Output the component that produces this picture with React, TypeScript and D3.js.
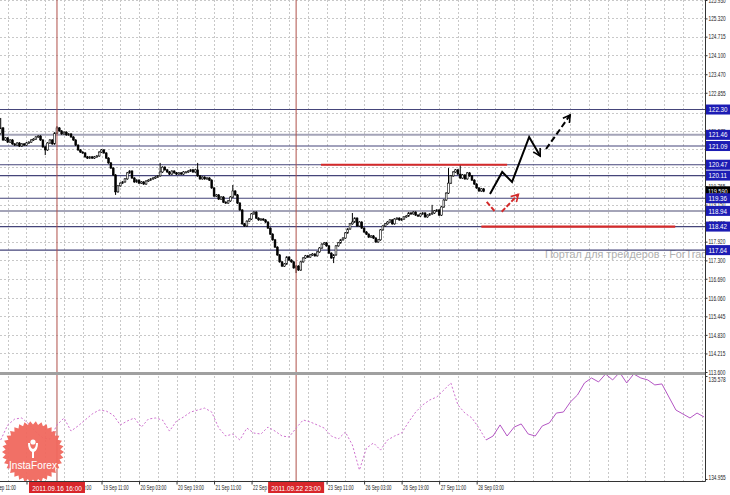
import React, { useRef, useEffect } from 'react';
import * as d3 from 'd3';

// H1 closes, first value is bar -24 (bar 0 = 2011.09.16 16:00)
const firstBar = -24;
const closes = [
  121.69, 121.29, 121.36, 121.22, 121.29, 121.16, 121.12, 121.19, 121.09, 121.16,
  121.12, 121.19, 121.22, 121.29, 121.32, 121.39, 121.42, 121.29, 121.06, 120.96,
  121.19, 121.29, 121.16, 121.52, 121.69, 121.59, 121.49, 121.55, 121.46, 121.49,
  121.39, 121.29, 121.12, 120.96, 120.89, 120.86, 120.73, 120.69, 120.73, 120.69,
  120.73, 120.76, 120.89, 120.96, 120.86, 120.69, 120.53, 120.36, 120.13, 119.57,
  119.77, 119.86, 119.90, 120.00, 120.20, 120.26, 120.03, 119.90, 119.96, 119.86,
  119.90, 119.83, 119.93, 119.96, 120.00, 120.03, 120.06, 120.10, 120.23, 120.39,
  120.30, 120.23, 120.16, 120.26, 120.20, 120.16, 120.20, 120.16, 120.23, 120.23,
  120.26, 120.30, 120.23, 120.30, 120.10, 120.00, 120.06, 120.00, 120.03, 119.96,
  119.70, 119.43, 119.47, 119.33, 119.40, 119.23, 119.20, 119.27, 119.40, 119.60,
  119.47, 119.20, 118.97, 118.51, 118.44, 118.60, 118.67, 118.84, 118.90, 118.70,
  118.64, 118.67, 118.64, 118.57, 118.37, 118.17, 117.98, 117.74, 117.48, 117.25,
  117.11, 117.18, 117.41, 117.31, 117.25, 117.05, 117.11, 116.98, 117.25, 117.38,
  117.45, 117.41, 117.48, 117.51, 117.45, 117.58, 117.71, 117.84, 117.88, 117.78,
  117.54, 117.38, 117.48, 117.78, 117.88, 117.98, 118.04, 118.21, 118.34, 118.51,
  118.57, 118.70, 118.44, 118.57, 118.37, 118.24, 118.17, 118.07, 118.11, 118.04,
  117.91, 117.98, 118.31, 118.44, 118.51, 118.57, 118.64, 118.51, 118.67, 118.70,
  118.64, 118.67, 118.74, 118.77, 118.87, 118.84, 118.90, 118.80, 118.77, 118.84,
  118.87, 118.74, 118.80, 118.84, 118.87, 118.94, 118.97, 118.80, 119.07, 119.30,
  119.53, 119.86, 120.10, 120.23, 120.30, 120.16, 120.03, 120.13, 120.00, 120.20,
  120.10, 119.96, 119.83, 119.70, 119.60, 119.67, 119.59,
];
const spikeHighs: [number, number][] = [[-24, 122.02], [0, 121.75], [44, 120.53], [60, 120.53], [75, 119.8], [126, 118.87], [160, 119.14], [167, 120.36], [172, 120.46]];
const spikeLows: [number, number][] = [[-5, 120.79], [25, 119.47], [102, 116.88], [118, 117.21]];

const priceTicks = [113.6, 114.215, 114.83, 115.445, 116.06, 116.69, 117.3, 117.92, 118.535, 119.15, 119.765, 120.38, 120.995, 121.575, 122.185, 122.855, 123.47, 124.1, 124.715, 125.32, 125.93];
const coveredTicks = [120.38, 120.995, 122.185]; // sit under the level boxes
const levels = [122.30, 121.46, 121.09, 120.47, 120.11, 119.36, 118.94, 118.42, 117.64];
const lightLevels = [121.46, 118.94];
const lastPrice = 119.59;

const timeLabels = ['15 Sep 11:00', '16 Sep 03:00', '16 Sep 19:00', '19 Sep 11:00', '20 Sep 03:00', '20 Sep 19:00', '21 Sep 11:00', '22 Sep 03:00', '22 Sep 19:00', '23 Sep 11:00', '26 Sep 03:00', '26 Sep 19:00', '27 Sep 11:00', '28 Sep 03:00'];
const timeLabelBars = [-29, -13, 3, 19, 35, 51, 67, 83, 99, 115, 131, 147, 163, 179];
const markedBars = [0, 102];
const markedLabels = ['2011.09.16 16:00', '2011.09.22 23:00'];

// indicator, one value every 3 bars starting at bar -24
const indStep = 3;
const indicator = [
  135.191, 135.282, 135.318, 135.324, 135.288, 135.239, 135.203, 135.197, 135.282, 135.324,
  135.245, 135.276, 135.312, 135.348, 135.372, 135.366, 135.342, 135.282, 135.306, 135.324,
  135.269, 135.318, 135.324, 135.312, 135.245, 135.306, 135.330, 135.360, 135.372, 135.384,
  135.360, 135.263, 135.215, 135.227, 135.191, 135.263, 135.233, 135.227, 135.269, 135.245,
  135.215, 135.209, 135.263, 135.312, 135.300, 135.282, 135.263, 135.215, 135.197, 135.239,
  135.161, 135.009, 135.142, 135.173, 135.130, 135.191, 135.215, 135.233, 135.300, 135.360,
  135.403, 135.433, 135.451, 135.493, 135.536, 135.403, 135.354, 135.324, 135.263, 135.191,
  135.215, 135.282, 135.215, 135.269, 135.288, 135.227, 135.215, 135.276, 135.294, 135.354,
  135.360, 135.421, 135.463, 135.536, 135.566, 135.542, 135.590, 135.554, 135.600, 135.536,
  135.590, 135.566, 135.554, 135.524, 135.530, 135.451, 135.372, 135.348, 135.324, 135.354,
  135.330,
];
const indSolidFrom = 69;
const indTicks = [134.955, 135.578];

// drawn forecast marks, [bar, price]
const resistance: [number, number][] = [[112.6, 120.47], [192, 120.47]];
const support: [number, number][] = [[181, 118.42], [263.7, 118.42]];
const blackWave: [number, number][] = [[184.7, 119.5], [189.9, 120.23], [194.1, 119.9], [201.4, 121.39], [206.1, 120.76]];
const blackDash: [number, number][] = [[208.6, 120.99], [218.9, 122.12]];
const redDown: [number, number][] = [[183.3, 119.24], [186.9, 118.91]];
const redUp: [number, number][] = [[189.7, 118.91], [196.8, 119.49]];

const App = () => {
  const svgRef = useRef<SVGSVGElement>(null);

  useEffect(() => {
    if (!svgRef.current) return;
    const svg = d3.select(svgRef.current);
    svg.selectAll('*').remove();

    const W = 730, H = 495, plotR = 705, mainB = 372, indT = 376, indB = 479, axisY = 481;
    const font = '"Liberation Sans", Arial, sans-serif';

    const x = d3.scaleLinear().domain([-24.3, 276.4]).range([0, plotR]);
    const y = d3.scaleLinear().domain([113.6, 125.93]).range([mainB, 0]);
    const yi = d3.scaleLinear().domain([134.955, 135.578]).range([indB, indT]);

    // the screenshot is squeezed sideways, so texts get a horizontal scale
    const squeeze = (sel: any, sx: number, dx: number, dy: number) =>
      sel.attr('x', 0).attr('y', 0).attr('transform', `translate(${dx},${dy}) scale(${sx},1)`);

    svg.attr('width', W).attr('height', H);
    svg.append('rect').attr('width', W).attr('height', H).attr('fill', '#fff');

    const defs = svg.append('defs');
    defs.append('clipPath').attr('id', 'clipMain').append('rect').attr('x', 0).attr('y', 0).attr('width', plotR).attr('height', mainB);
    defs.append('clipPath').attr('id', 'clipInd').append('rect').attr('x', 0).attr('y', 375).attr('width', plotR).attr('height', axisY - 375);
    defs.append('clipPath').attr('id', 'clipAll').append('rect').attr('x', 0).attr('y', 0).attr('width', plotR).attr('height', axisY);
    [['ahBlack', '#000'], ['ahRed', '#d42a2a']].forEach(([id, c]) => {
      defs.append('marker').attr('id', id).attr('viewBox', '0 0 10 10')
        .attr('refX', 8).attr('refY', 5).attr('markerWidth', 5).attr('markerHeight', 5)
        .attr('orient', 'auto')
        .append('path').attr('d', 'M1,1 L8,5 L1,9').attr('fill', 'none')
        .attr('stroke', c).attr('stroke-width', 1.6);
    });

    // grid
    const grid = svg.append('g').attr('clip-path', 'url(#clipAll)');
    grid.selectAll('.vg').data(d3.range(-29, 277, 8)).enter().append('line')
      .attr('x1', d => Math.round(x(d)) + 0.5).attr('x2', d => Math.round(x(d)) + 0.5)
      .attr('y1', 0).attr('y2', axisY)
      .attr('stroke', '#c8c8c8').attr('stroke-width', 1).attr('stroke-dasharray', '2,2');
    grid.selectAll('.hg').data(priceTicks).enter().append('line')
      .attr('x1', 0).attr('x2', plotR)
      .attr('y1', d => Math.round(y(d)) + 0.5).attr('y2', d => Math.round(y(d)) + 0.5)
      .attr('stroke', '#c8c8c8').attr('stroke-width', 1).attr('stroke-dasharray', '2,2');

    const main = svg.append('g').attr('clip-path', 'url(#clipMain)');

    // watermark
    main.append('text').attr('x', 545).attr('y', 258)
      .attr('font-family', font).attr('font-size', 10).attr('fill', '#b0b0b0')
      .attr('textLength', 172).attr('lengthAdjust', 'spacingAndGlyphs')
      .text('Портал для трейдеров - ForTrader');

    // levels
    main.selectAll('.lvl').data(levels).enter().append('line')
      .attr('x1', 0).attr('x2', plotR)
      .attr('y1', d => y(d)).attr('y2', d => y(d))
      .attr('stroke', d => lightLevels.includes(d) ? '#a4a4b8' : '#45457a')
      .attr('stroke-width', d => lightLevels.includes(d) ? 2 : 1.1);

    // vertical markers
    svg.append('g').selectAll('line').data(markedBars).enter().append('line')
      .attr('x1', d => x(d)).attr('x2', d => x(d)).attr('y1', 0).attr('y2', axisY)
      .attr('stroke', '#b0504a').attr('stroke-width', 1);

    // candles
    const bars = closes.map((c, i) => {
      const b = firstBar + i;
      const o = i === 0 ? 121.5 : closes[i - 1];
      const sh = spikeHighs.find(s => s[0] === b);
      const sl = spikeLows.find(s => s[0] === b);
      return {
        b, o, c,
        h: sh ? sh[1] : Math.max(o, c) + 0.03,
        l: sl ? sl[1] : Math.min(o, c) - 0.03,
      };
    });
    const cg = main.append('g');
    cg.selectAll('.wick').data(bars).enter().append('line')
      .attr('x1', d => x(d.b)).attr('x2', d => x(d.b))
      .attr('y1', d => y(d.h)).attr('y2', d => y(d.l))
      .attr('stroke', '#000').attr('stroke-width', 1);
    cg.selectAll('.body').data(bars).enter().append('rect')
      .attr('x', d => x(d.b) - 0.9).attr('width', 1.8)
      .attr('y', d => y(Math.max(d.o, d.c)))
      .attr('height', d => Math.max(1, Math.abs(y(d.o) - y(d.c))))
      .attr('fill', d => d.c >= d.o ? '#fff' : '#000')
      .attr('stroke', '#000').attr('stroke-width', 0.6);

    // forecast marks
    const ln = d3.line<[number, number]>().x(d => x(d[0])).y(d => y(d[1]));
    main.append('path').attr('d', ln(resistance)).attr('stroke', '#d42a2a').attr('stroke-width', 2.2).attr('fill', 'none');
    main.append('path').attr('d', ln(support)).attr('stroke', '#d42a2a').attr('stroke-width', 2.2).attr('fill', 'none');
    main.append('path').attr('d', ln(blackWave)).attr('stroke', '#000').attr('stroke-width', 2)
      .attr('fill', 'none').attr('marker-end', 'url(#ahBlack)');
    main.append('path').attr('d', ln(blackDash)).attr('stroke', '#000').attr('stroke-width', 2)
      .attr('stroke-dasharray', '6,3').attr('fill', 'none').attr('marker-end', 'url(#ahBlack)');
    main.append('path').attr('d', ln(redDown)).attr('stroke', '#d42a2a').attr('stroke-width', 2)
      .attr('stroke-dasharray', '5,2').attr('fill', 'none');
    main.append('path').attr('d', ln(redUp)).attr('stroke', '#d42a2a').attr('stroke-width', 2)
      .attr('stroke-dasharray', '5,2').attr('fill', 'none').attr('marker-end', 'url(#ahRed)');

    // panel separator
    svg.append('rect').attr('x', 0).attr('y', mainB).attr('width', plotR).attr('height', 3).attr('fill', '#a0a0a0');

    // indicator
    const ig = svg.append('g').attr('clip-path', 'url(#clipInd)');
    const ipts = indicator.map((v, k) => [firstBar + k * indStep, v] as [number, number]);
    const iln = d3.line<[number, number]>().x(d => x(d[0])).y(d => yi(d[1]));
    ig.append('path').attr('d', iln(ipts.slice(0, indSolidFrom + 1)))
      .attr('fill', 'none').attr('stroke', '#cf72cf').attr('stroke-width', 1).attr('stroke-dasharray', '2,2');
    ig.append('path').attr('d', iln(ipts.slice(indSolidFrom)))
      .attr('fill', 'none').attr('stroke', '#b456c4').attr('stroke-width', 1);

    // axis frame
    svg.append('line').attr('x1', plotR + 0.5).attr('x2', plotR + 0.5).attr('y1', 0).attr('y2', axisY + 0.5).attr('stroke', '#333');
    svg.append('line').attr('x1', 0).attr('x2', plotR + 0.5).attr('y1', axisY + 0.5).attr('y2', axisY + 0.5).attr('stroke', '#333');

    // price axis
    const ya = svg.append('g').attr('transform', `translate(${plotR + 0.5},0)`)
      .call(d3.axisRight(y).tickValues(priceTicks).tickSize(2)
        .tickFormat(d => coveredTicks.includes(+d) ? '' : d3.format('.3f')(d)));
    ya.select('.domain').remove();
    ya.selectAll('.tick line').attr('stroke', '#333');
    squeeze(ya.selectAll('.tick text').attr('font-family', font).attr('font-size', 7).attr('fill', '#222'), 0.68, 3, 0);

    const iaxis = svg.append('g').attr('transform', `translate(${plotR + 0.5},0)`)
      .call(d3.axisRight(yi).tickValues(indTicks).tickSize(2).tickFormat(d3.format('.3f')));
    iaxis.select('.domain').remove();
    iaxis.selectAll('.tick line').attr('stroke', '#333');
    squeeze(iaxis.selectAll('.tick text').attr('font-family', font).attr('font-size', 7).attr('fill', '#222')
      .attr('dy', (d: any) => d === 135.578 ? '0.8em' : '0.1em'), 0.68, 3, 0);

    // level boxes
    const boxes = svg.append('g');
    const cur = boxes.append('g').attr('transform', `translate(${plotR + 1},${y(lastPrice)})`);
    cur.append('rect').attr('y', -5).attr('width', 24).attr('height', 10).attr('fill', '#000');
    squeeze(cur.append('text').attr('dy', '0.35em').attr('font-family', font).attr('font-size', 7.5)
      .attr('fill', '#fff').text(lastPrice.toFixed(3)), 0.74, 2, 0);
    const lb = boxes.selectAll('.lb').data(levels).enter().append('g')
      .attr('transform', d => `translate(${plotR + 1},${y(d)})`);
    lb.append('rect').attr('y', -5).attr('width', 24).attr('height', 10).attr('fill', '#1c1cb4');
    squeeze(lb.append('text').attr('dy', '0.35em').attr('font-family', font).attr('font-size', 7.5)
      .attr('fill', '#fff').text(d => d.toFixed(2)), 0.83, 2.5, 0);

    // time axis; labels wholly under a marker box are not drawn
    const covered = (b: number) => markedBars.some(m => x(b) >= x(m) - 32 && x(b) + 26 <= x(m) + 28);
    const xa = svg.append('g').attr('transform', `translate(0,${axisY + 0.5})`)
      .call(d3.axisBottom(x).tickValues(timeLabelBars).tickSize(3)
        .tickFormat((d, i) => covered(+d) ? '' : timeLabels[i]));
    xa.select('.domain').remove();
    xa.selectAll('.tick line').attr('stroke', '#333');
    squeeze(xa.selectAll('.tick text').attr('text-anchor', 'start')
      .attr('font-family', font).attr('font-size', 7.5).attr('fill', '#222'), 0.58, 1, 3.5);
    const mk = svg.append('g').selectAll('g').data(markedBars).enter().append('g')
      .attr('transform', d => `translate(${x(d)},${axisY + 1})`);
    mk.append('rect').attr('x', -28).attr('y', 0).attr('width', 56).attr('height', 11).attr('fill', '#d8262a');
    squeeze(mk.append('text').attr('text-anchor', 'middle').attr('font-family', font).attr('font-size', 7.5)
      .attr('fill', '#fff').text((d, i) => markedLabels[i]), 0.86, 0, 8.5);

    // InstaForex badge
    const logo = svg.append('g').attr('clip-path', 'url(#clipAll)')
      .append('g').attr('transform', 'translate(33,452)');
    const teeth = 34;
    const star = d3.range(teeth * 2).map(i => {
      const a = (i / (teeth * 2)) * Math.PI * 2;
      const r = i % 2 === 0 ? 31 : 27.5;
      return [Math.cos(a) * r, Math.sin(a) * r] as [number, number];
    });
    logo.append('path').attr('d', d3.line()(star) + 'Z').attr('fill', '#f0685e').attr('opacity', 0.95);
    logo.append('circle').attr('cy', -10).attr('r', 2.6).attr('fill', '#fff');
    logo.append('path').attr('d', 'M-5,-9 Q-5,-2 -1,0 L-1,6 L1,6 L1,0 Q5,-2 5,-9 L3,-9 Q3,-4 0,-3 Q-3,-4 -3,-9 Z').attr('fill', '#fff');
    logo.append('text').attr('y', 17).attr('text-anchor', 'middle').attr('font-family', font)
      .attr('font-size', 10).attr('fill', '#fff').attr('textLength', 48).attr('lengthAdjust', 'spacingAndGlyphs')
      .text('InstaForex');
  }, []);

  return (
    <div style={{ position: 'absolute', left: 0, top: 0 }}>
      <svg ref={svgRef}></svg>
    </div>
  );
};

export default App;
